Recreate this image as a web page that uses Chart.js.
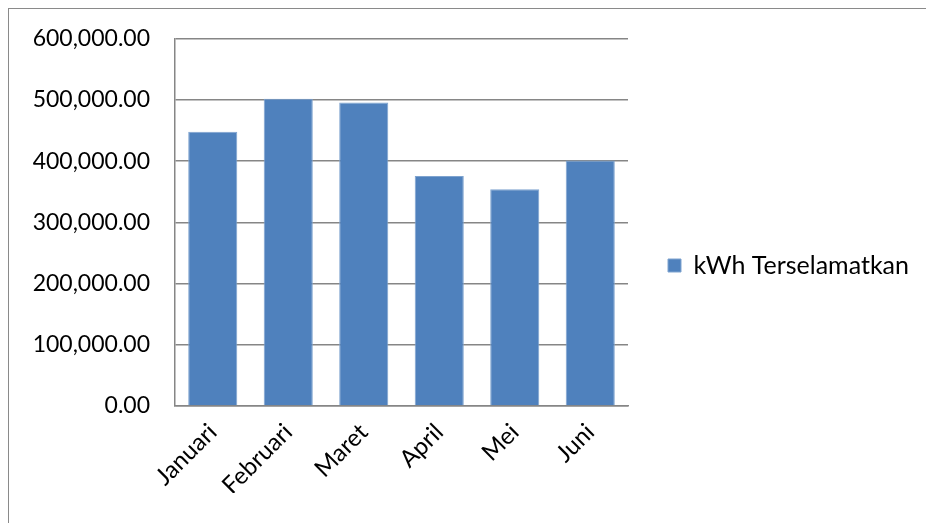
<!DOCTYPE html>
<html>
<head>
<meta charset="utf-8">
<script src="https://cdn.jsdelivr.net/npm/chart.js@4"></script>
<style>
  html, body { margin: 0; padding: 0; background: #fff; }
  #wrap { position: relative; width: 926px; height: 523px; overflow: hidden; }
  #frame { position: absolute; left: 8px; top: 8px; width: 940px; height: 540px;
           border: 1.5px solid #8a8a8a; box-sizing: border-box; }
  #chart { position: absolute; left: 0; top: 0; }
</style>
</head>
<body>
<div id="wrap">
  <div id="frame"></div>
  <canvas id="chart" width="926" height="523"></canvas>
</div>
<script>
// ── Data ──────────────────────────────────────────────────────────
const months = ['Januari', 'Februari', 'Maret', 'April', 'Mei', 'Juni'];
const kwhSaved = [448000, 502000, 496000, 376000, 354000, 401000];
const seriesName = 'kWh Terselamatkan';

const fmt = v => v.toLocaleString('en-US', { minimumFractionDigits: 2, maximumFractionDigits: 2 });

// Legend on the right is capped at a quarter of the width by the layout;
// widen it after its own fit so the plot ends where the original does.
const LEGEND_W = 298;
const wideLegend = {
  id: 'wideLegend',
  beforeLayout(chart) {
    const lg = chart.legend;
    if (!lg || lg._wide) return;
    const orig = lg.fit.bind(lg);
    lg.fit = function () { orig(); this.width = LEGEND_W; };
    lg._wide = true;
  },
};

// ── Chart ─────────────────────────────────────────────────────────
new Chart(document.getElementById('chart'), {
  type: 'bar',
  data: {
    labels: months,
    datasets: [{
      label: seriesName,
      data: kwhSaved,
      backgroundColor: '#4F81BD',
      borderColor: '#7EA3CF',
      borderWidth: 1,
      barPercentage: 0.65,
      categoryPercentage: 1,
    }],
  },
  plugins: [wideLegend],
  options: {
    responsive: false,
    animation: false,
    layout: { padding: { top: 38, left: 10, right: 0, bottom: 30 } },
    plugins: {
      tooltip: { enabled: false },
      legend: {
        position: 'right',
        labels: {
          boxWidth: 13,
          boxHeight: 13,
          color: '#000',
          padding: 40,
          font: { family: 'Lato', size: 25 },
        },
      },
    },
    scales: {
      x: {
        grid: { display: false, drawTicks: false },
        border: { color: '#868686', width: 1.5 },
        ticks: {
          color: '#000',
          minRotation: 45,
          maxRotation: 45,
          padding: 12,
          font: { family: 'Lato', size: 24 },
        },
        afterFit: s => { s.height = 87; },
      },
      y: {
        min: 0,
        max: 600000,
        grid: { color: '#868686', lineWidth: 1.5, drawTicks: false },
        border: { color: '#868686', width: 1.5 },
        ticks: {
          stepSize: 100000,
          color: '#000',
          padding: 25,
          font: { family: 'Lato', size: 23 },
          callback: v => fmt(v),
        },
        afterFit: s => { s.width = 165; },
      },
    },
  },
});
</script>
</body>
</html>
